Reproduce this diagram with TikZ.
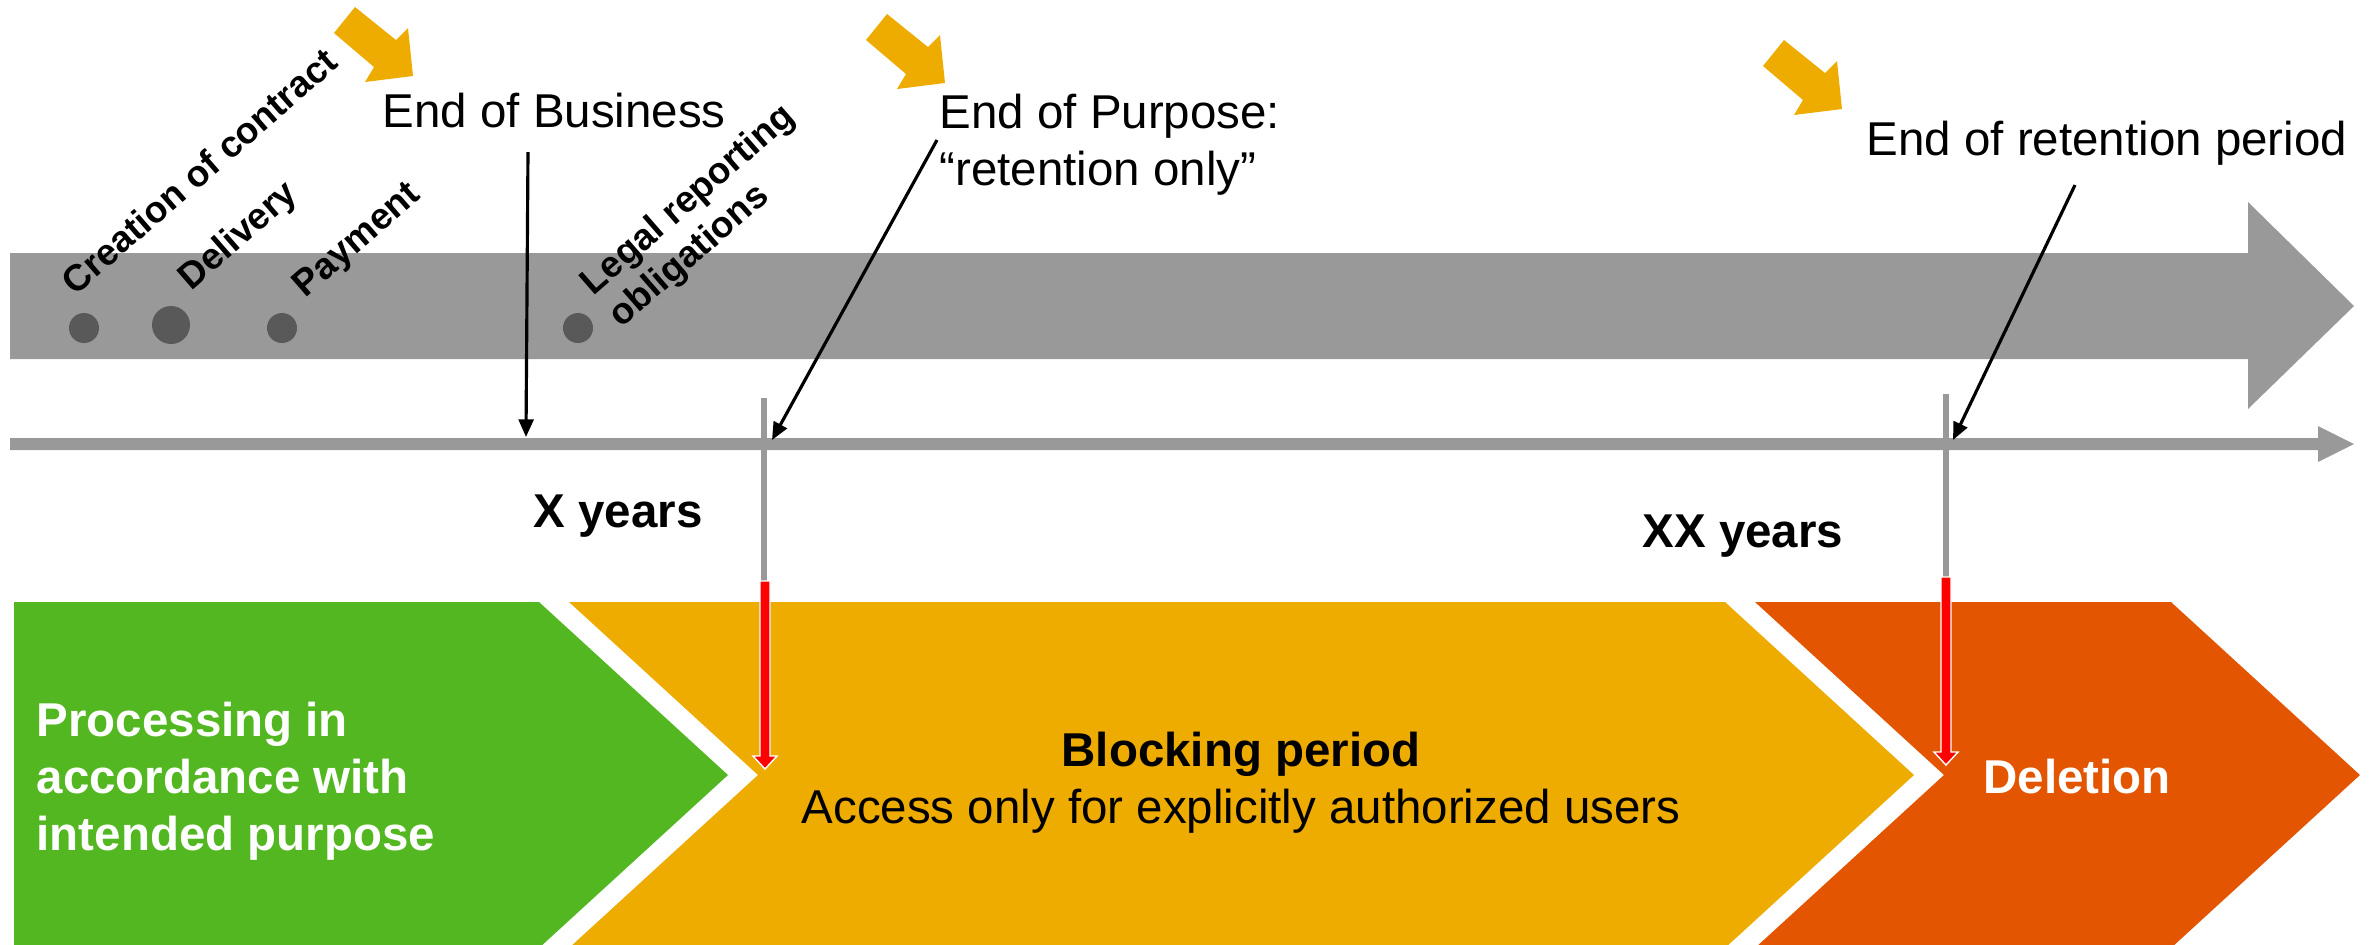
\documentclass[tikz,border=0pt]{standalone}
\usepackage{fontspec}
\setmainfont{Liberation Sans}
\usetikzlibrary{arrows.meta}
\definecolor{gbar}{HTML}{999999}
\definecolor{gdot}{HTML}{595959}
\definecolor{cgreen}{HTML}{52B720}
\definecolor{corange}{HTML}{EEAB00}
\definecolor{cdel}{HTML}{E35500}
\definecolor{cred}{HTML}{FF0000}
\tikzset{
  lbl/.style={font=\fontsize{13.5}{16.2}\selectfont, inner sep=0pt},
  blbl/.style={font=\fontsize{13.5}{16.2}\selectfont\bfseries, inner sep=0pt},
  rlbl/.style={font=\fontsize{10.5}{12.2}\selectfont\bfseries, inner sep=0pt, rotate=41},
  ptr/.style={draw=black, line width=0.9pt, -{Triangle[length=5pt,width=4.2pt]}},
  tickline/.style={draw=gbar, line width=1.9pt},
  evdot/.style={circle, fill=gdot, inner sep=0pt, minimum size=0.3cm},
  bigdot/.style={evdot, minimum size=0.38cm},
  redmark/.style={fill=cred, draw=white, line width=0.4pt},
  evarrow/.pic={\fill[corange] (0,0) -- (-21,26) -- (19,60) -- (10,75) -- (58,69) -- (53,21) -- (41,33) -- cycle;}
}
\begin{document}
\begin{tikzpicture}[x=0.01cm, y=-0.01cm]
\useasboundingbox (0,0) rectangle (2377,944);

% big grey process arrow
\fill[gbar] (10,253) -- (2248,253) -- (2248,202) -- (2354,306) -- (2248,409) -- (2248,359) -- (10,359) -- cycle;
% timeline
\fill[gbar] (10,438) -- (2318,438) -- (2318,426) -- (2354,444) -- (2318,462) -- (2318,450) -- (10,450) -- cycle;

% event dots
\node[evdot] (d1) at (84,328) {};
\node[bigdot] (d2) at (171,325) {};
\node[evdot] (d3) at (282,328) {};
\node[evdot] (d4) at (578,328) {};

% rotated event labels
\node[rlbl] (creation) at (199,171) {Creation of contract};
\node[rlbl] (delivery) at (239,237) {Delivery};
\node[rlbl] (payment) at (358,241) {Payment};
\node[rlbl, align=left] (legal) at (703,217) {Legal reporting\\obligations};

% milestone markers (orange arrows)
\pic at (355,7) {evarrow};
\pic at (887,14) {evarrow};
\pic at (1784,40) {evarrow};

% milestone labels
\node[lbl, anchor=base west] (eob) at (382,127) {End of Business};
\node[lbl, anchor=north west, align=left] (eop) at (939,93) {End of Purpose:\\“retention only”};
\node[lbl, anchor=base west] (eor) at (1866,155) {End of retention period};

% ticks on timeline
\coordinate (t1top) at (764,398);
\coordinate (t1bot) at (764,582);
\coordinate (t2top) at (1946,394);
\coordinate (t2bot) at (1946,578);
\draw[tickline] (t1top) -- (t1bot);
\draw[tickline] (t2top) -- (t2bot);

% pointers to timeline
\coordinate (p1s) at (528,152);
\coordinate (p1e) at (526,437);
\coordinate (p2s) at (937,140);
\coordinate (p2e) at (772,440);
\coordinate (p3s) at (2075,185);
\coordinate (p3e) at (1953,440);
\draw[ptr] (p1s) -- (p1e);
\draw[ptr] (p2s) -- (p2e);
\draw[ptr] (p3s) -- (p3e);

% durations
\node[blbl, anchor=base west] (xyears) at (533,527) {X years};
\node[blbl, anchor=base west] (xxyears) at (1642,547) {XX years};

% phase chevrons
\fill[cgreen] (14,602) -- (539,602) -- (728,775) -- (539,948) -- (14,948) -- cycle;
\fill[corange] (569,602) -- (1725,602) -- (1914,775) -- (1725,948) -- (569,948) -- (758,775) -- cycle;
\fill[cdel] (1755,602) -- (2171,602) -- (2360,775) -- (2171,948) -- (1755,948) -- (1944,775) -- cycle;

% red transition arrows
\fill[redmark] (760,581) -- (770,581) -- (770,756) -- (777,756) -- (765,769) -- (753,756) -- (760,756) -- cycle;
\fill[redmark] (1941,577) -- (1951,577) -- (1951,752) -- (1958,752) -- (1946,765) -- (1934,752) -- (1941,752) -- cycle;

% phase texts
\node[blbl, text=white, anchor=north west, align=left] (proc) at (36,701) {Processing in\\accordance with\\intended purpose};
\node[lbl, anchor=north, align=center] (blk) at (1241,731) {{\bfseries Blocking period}\\Access only for explicitly authorized users};
\node[blbl, text=white, anchor=base west] (del) at (1983,793) {Deletion};
\end{tikzpicture}
\end{document}
